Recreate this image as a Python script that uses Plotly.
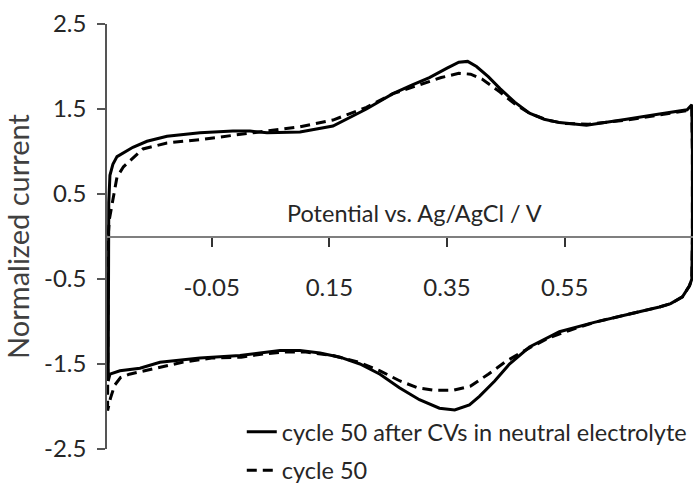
import plotly.graph_objects as go

# Solid: cycle 50 after CVs in neutral electrolyte (closed CV loop)
solid_x = [-0.226, -0.226, -0.225, -0.223, -0.218, -0.211, -0.197, -0.184, -0.160, -0.126,
           -0.070, -0.014, 0.015, 0.044, 0.100, 0.156, 0.213, 0.258, 0.290, 0.320,
           0.350, 0.370, 0.385, 0.400, 0.420, 0.440, 0.465, 0.490, 0.515, 0.541,
           0.587, 0.620, 0.655, 0.711, 0.758, 0.766, 0.767, 0.767, 0.766, 0.762,
           0.750, 0.730, 0.711, 0.655, 0.600, 0.541, 0.524, 0.490, 0.456, 0.431,
           0.405, 0.388, 0.363, 0.337, 0.303, 0.269, 0.236, 0.202, 0.168, 0.134,
           0.100, 0.066, 0.032, -0.002, -0.070, -0.138, -0.172, -0.206, -0.223, -0.226]
solid_y = [-1.70, 0.00, 0.40, 0.72, 0.85, 0.94, 1.00, 1.05, 1.12, 1.18,
           1.22, 1.24, 1.24, 1.22, 1.23, 1.30, 1.50, 1.68, 1.78, 1.87,
           1.98, 2.05, 2.06, 2.00, 1.88, 1.74, 1.58, 1.45, 1.38, 1.34,
           1.31, 1.34, 1.38, 1.44, 1.49, 1.55, 1.00, 0.00, -0.50, -0.58,
           -0.71, -0.79, -0.83, -0.92, -1.01, -1.12, -1.18, -1.30, -1.50, -1.70,
           -1.88, -1.98, -2.04, -2.02, -1.92, -1.78, -1.62, -1.50, -1.42, -1.37,
           -1.34, -1.34, -1.37, -1.40, -1.43, -1.48, -1.55, -1.58, -1.62, -1.70]

# Dashed: cycle 50
dash_x = [-0.227, -0.226, -0.224, -0.218, -0.211, -0.200, -0.184, -0.167, -0.126, -0.070,
          -0.014, 0.044, 0.100, 0.156, 0.213, 0.258, 0.300, 0.340, 0.370, 0.390,
          0.410, 0.440, 0.465, 0.490, 0.520, 0.550, 0.590, 0.655, 0.711, 0.758,
          0.766, 0.767, 0.767, 0.766, 0.762, 0.750, 0.730, 0.711, 0.655, 0.600,
          0.560, 0.524, 0.490, 0.450, 0.420, 0.390, 0.360, 0.330, 0.300, 0.270,
          0.236, 0.200, 0.156, 0.110, 0.070, 0.040, 0.000, -0.050, -0.100, -0.150,
          -0.190, -0.205, -0.215, -0.222, -0.227]
dash_y = [-2.05, 0.00, 0.20, 0.45, 0.70, 0.82, 0.92, 1.03, 1.10, 1.14,
          1.19, 1.24, 1.29, 1.37, 1.52, 1.68, 1.78, 1.87, 1.92, 1.91,
          1.85, 1.70, 1.56, 1.45, 1.37, 1.33, 1.32, 1.37, 1.43, 1.48,
          1.52, 1.00, 0.00, -0.50, -0.58, -0.71, -0.79, -0.83, -0.92, -1.01,
          -1.10, -1.19, -1.31, -1.47, -1.62, -1.76, -1.81, -1.81, -1.78, -1.70,
          -1.58, -1.48, -1.40, -1.36, -1.36, -1.38, -1.42, -1.43, -1.48, -1.56,
          -1.62, -1.66, -1.75, -1.90, -2.05]

x_ticks = [-0.05, 0.15, 0.35, 0.55]
y_ticks = [-2.5, -1.5, -0.5, 0.5, 1.5, 2.5]
x_title = "Potential vs. Ag/AgCl / V"
y_title = "Normalized current"
names = ["cycle 50 after CVs in neutral electrolyte", "cycle 50"]

FONT = "Lato"
TXT = "#262626"

fig = go.Figure()
fig.add_trace(go.Scatter(x=solid_x, y=solid_y, mode="lines", name=names[0],
                         legendgroup="a", line=dict(color="black", width=3)))
fig.add_trace(go.Scatter(x=dash_x, y=dash_y, mode="lines", name=names[1],
                         legendgroup="b", line=dict(color="black", width=3, dash="10px,6px")))

fig.update_layout(
    width=695, height=488,
    margin=dict(l=107, r=2, t=24, b=39, autoexpand=False),
    paper_bgcolor="white", plot_bgcolor="white",
    font=dict(family=FONT, size=24, color=TXT),
    showlegend=True,
    legend=dict(x=0.23, y=0.092, xanchor="left", yanchor="top",
                bgcolor="rgba(0,0,0,0)", traceorder="grouped", tracegroupgap=5,
                font=dict(family=FONT, size=23.5, color=TXT)),
    xaxis=dict(range=[-0.228, 0.768], anchor="free", position=0.5,
               tickvals=x_ticks, ticktext=[f"{v:.2f}" for v in x_ticks],
               ticks="outside", ticklen=9, tickwidth=2, tickcolor="#333",
               showline=True, linecolor="#7f7f7f", linewidth=2,
               showgrid=False, zeroline=False, ticklabelstandoff=21,
               tickfont=dict(size=24)),
    yaxis=dict(range=[-2.5, 2.5], tickvals=y_ticks,
               ticktext=[f"{v:.1f}" for v in y_ticks],
               ticks="outside", ticklen=8, tickwidth=1.5, tickcolor="#555",
               showline=True, linecolor="#555", linewidth=1.5,
               showgrid=False, zeroline=False, ticklabelstandoff=6,
               tickfont=dict(size=24),
               title=dict(text=y_title, standoff=10, font=dict(size=29, color="#404040"))),
)
fig.add_annotation(x=0.295, y=0.28, xref="x", yref="y", text=x_title, showarrow=False,
                   font=dict(family=FONT, size=23.5, color=TXT))

fig.write_html("out.html")
